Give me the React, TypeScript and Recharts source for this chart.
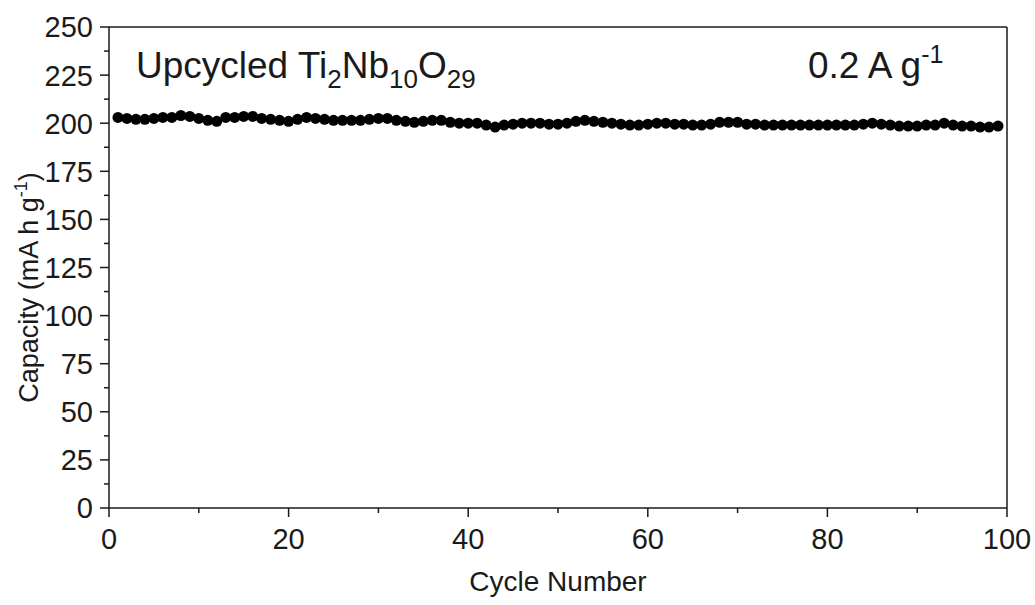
import { Label, ReferenceLine, Scatter, ScatterChart, XAxis, YAxis } from "recharts";

const cycles = [
  1, 2, 3, 4, 5, 6, 7, 8, 9, 10, 11, 12, 13, 14, 15, 16, 17, 18, 19, 20,
  21, 22, 23, 24, 25, 26, 27, 28, 29, 30, 31, 32, 33, 34, 35, 36, 37, 38, 39, 40,
  41, 42, 43, 44, 45, 46, 47, 48, 49, 50, 51, 52, 53, 54, 55, 56, 57, 58, 59, 60,
  61, 62, 63, 64, 65, 66, 67, 68, 69, 70, 71, 72, 73, 74, 75, 76, 77, 78, 79, 80,
  81, 82, 83, 84, 85, 86, 87, 88, 89, 90, 91, 92, 93, 94, 95, 96, 97, 98, 99,
];

const capacity = [
  203.0, 202.5, 202.0, 202.0, 202.5, 203.0, 203.0, 204.0, 203.5, 202.5,
  201.5, 201.0, 203.0, 203.0, 203.5, 203.5, 202.5, 202.0, 201.5, 201.0,
  202.0, 203.0, 202.5, 202.0, 201.5, 201.5, 201.5, 201.5, 202.0, 202.5,
  202.5, 201.5, 201.0, 200.5, 201.0, 201.5, 201.5, 200.5, 200.0, 200.0,
  200.0, 199.0, 198.0, 199.0, 199.5, 200.0, 200.0, 200.0, 199.5, 199.5,
  200.0, 201.0, 201.5, 201.0, 200.5, 200.0, 199.5, 199.0, 199.0, 199.5,
  200.0, 200.0, 199.5, 199.5, 199.0, 199.0, 199.5, 200.5, 200.5, 200.5,
  199.5, 199.5, 199.0, 199.0, 199.0, 199.0, 199.0, 199.0, 199.0, 199.0,
  199.0, 199.0, 199.0, 199.5, 200.0, 199.5, 199.0, 198.5, 198.5, 198.5,
  199.0, 199.0, 200.0, 199.0, 198.5, 198.5, 198.0, 198.0, 198.5,
];

const xTicks = [0, 10, 20, 30, 40, 50, 60, 70, 80, 90, 100];
const yTicks = [
  0, 12.5, 25, 37.5, 50, 62.5, 75, 87.5, 100, 112.5, 125, 137.5, 150, 162.5,
  175, 187.5, 200, 212.5, 225, 237.5, 250,
];

const data = cycles.map((c, i) => ({ cycle: c, capacity: capacity[i] }));

const FONT = '"Liberation Sans", Arial, sans-serif';
const INK = "#1a1a1a";

function YTick(props: any) {
  const { x, y, payload } = props;
  const major = payload.value % 25 === 0;
  return (
    <g>
      <line x1={x - (major ? 9 : 5)} x2={x} y1={y} y2={y} stroke={INK} strokeWidth={1.5} />
      {major && (
        <text x={x - 16} y={y} dy="0.36em" textAnchor="end" fontSize={29} fontFamily={FONT} fill={INK}>
          {payload.value}
        </text>
      )}
    </g>
  );
}

function XTick(props: any) {
  const { x, y, payload } = props;
  const major = payload.value % 20 === 0;
  return (
    <g>
      <line x1={x} x2={x} y1={y} y2={y + (major ? 9 : 5)} stroke={INK} strokeWidth={1.5} />
      {major && (
        <text x={x} y={y + 41} textAnchor="middle" fontSize={29} fontFamily={FONT} fill={INK}>
          {payload.value}
        </text>
      )}
    </g>
  );
}

export default function App() {
  return (
    <div style={{ position: "absolute", left: 0, top: 0, width: 1035, height: 605, background: "#fff" }}>
      <ScatterChart width={1035} height={605} margin={{ top: 27, right: 28, bottom: 0, left: 0 }}>
        <XAxis
          type="number"
          dataKey="cycle"
          domain={[0, 100]}
          ticks={xTicks}
          interval={0}
          height={97}
          tickSize={0}
          tickMargin={0}
          tickLine={false}
          tick={<XTick />}
          axisLine={{ stroke: INK, strokeWidth: 1.5 }}
        >
          <Label
            content={({ viewBox }: any) => (
              <text
                x={viewBox.x + viewBox.width / 2}
                y={viewBox.y + 83}
                textAnchor="middle"
                fontSize={28}
                fontFamily={FONT}
                fill={INK}
              >
                Cycle Number
              </text>
            )}
          />
        </XAxis>
        <YAxis
          type="number"
          dataKey="capacity"
          domain={[0, 250]}
          ticks={yTicks}
          interval={0}
          width={109}
          tickSize={0}
          tickMargin={0}
          tickLine={false}
          tick={<YTick />}
          axisLine={{ stroke: INK, strokeWidth: 1.5 }}
        >
          <Label
            content={({ viewBox }: any) => {
              const cx = 38;
              const cy = viewBox.y + viewBox.height / 2 + 20;
              return (
                <text
                  x={cx}
                  y={cy}
                  transform={`rotate(-90, ${cx}, ${cy})`}
                  textAnchor="middle"
                  fontSize={27}
                  fontFamily={FONT}
                  fill={INK}
                >
                  Capacity (mA h g
                  <tspan dy={-11} fontSize={18}>-1</tspan>
                  <tspan dy={11}>)</tspan>
                </text>
              );
            }}
          />
        </YAxis>
        <ReferenceLine y={250} stroke={INK} strokeWidth={1.5} />
        <ReferenceLine x={100} stroke={INK} strokeWidth={1.5} />
        <Scatter
          data={data}
          isAnimationActive={false}
          shape={(p: any) => <circle cx={p.cx} cy={p.cy} r={5.5} fill="#000" />}
        />
      </ScatterChart>
      <svg
        width={1035}
        height={605}
        style={{ position: "absolute", left: 0, top: 0, pointerEvents: "none" }}
      >
        <text x={136} y={78} fontSize={37} fontFamily={FONT} fill={INK}>
          Upcycled Ti
          <tspan dy={10} fontSize={26}>2</tspan>
          <tspan dy={-10}>Nb</tspan>
          <tspan dy={10} fontSize={26}>10</tspan>
          <tspan dy={-10}>O</tspan>
          <tspan dy={10} fontSize={26}>29</tspan>
        </text>
        <text x={808} y={78} fontSize={37} fontFamily={FONT} fill={INK}>
          0.2 A g
          <tspan dy={-15} fontSize={25}>-1</tspan>
        </text>
      </svg>
    </div>
  );
}
